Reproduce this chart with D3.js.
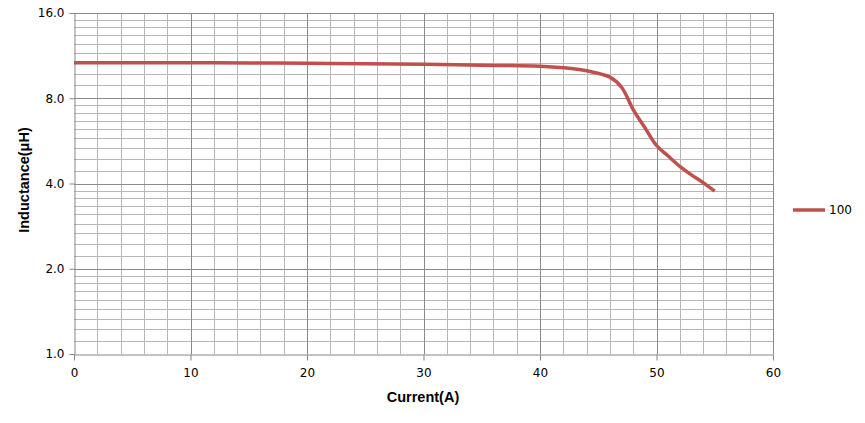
<!DOCTYPE html>
<html>
<head>
<meta charset="utf-8">
<script src="https://cdn.jsdelivr.net/npm/d3@7"></script>
<style>
  html, body { margin: 0; padding: 0; background: #fff; }
  svg { display: block; }
</style>
</head>
<body>
<svg id="chart" width="865" height="423"></svg>
<script>
// ---- data ----
const current = [0, 5, 10, 15, 20, 25, 30, 35, 40, 42, 44, 46, 47, 48, 49, 50, 51, 52, 53, 54, 55];
const inductance = [10.68, 10.68, 10.68, 10.66, 10.63, 10.59, 10.54, 10.47, 10.38, 10.25, 10.0, 9.5, 8.75, 7.3, 6.3, 5.45, 5.0, 4.6, 4.29, 4.03, 3.76];
const seriesName = "100";
const xTicks = [0, 10, 20, 30, 40, 50, 60];
const yTicks = [1, 2, 4, 8, 16];
const xTitle = "Current(A)";
const yTitle = "Inductance(\u03BCH)";

// ---- layout ----
const svg = d3.select("#chart");
const pL = 74, pR = 773, pT = 13, pB = 354;

const x = d3.scaleLinear().domain([0, 60]).range([pL, pR]);
const y = d3.scaleLog().base(2).domain([1, 16]).range([pB, pT]);

// minor grid values
const xMinor = d3.range(0, 61, 2).filter(v => v % 10 !== 0);
const yMinor = [];
yTicks.slice(0, -1).forEach(m => {
  for (let i = 1; i <= 8; i++) yMinor.push(m * (1 + i / 9));
});

const grid = svg.append("g");
grid.selectAll("line.xmin").data(xMinor).join("line")
  .attr("x1", d => Math.round(x(d)) + 0.5).attr("x2", d => Math.round(x(d)) + 0.5)
  .attr("y1", pT).attr("y2", pB)
  .attr("stroke", "#b8b8b8").attr("stroke-width", 1);
grid.selectAll("line.ymin").data(yMinor).join("line")
  .attr("y1", d => Math.round(y(d)) + 0.5).attr("y2", d => Math.round(y(d)) + 0.5)
  .attr("x1", pL).attr("x2", pR)
  .attr("stroke", "#b8b8b8").attr("stroke-width", 1);
grid.selectAll("line.xmaj").data(xTicks.slice(1)).join("line")
  .attr("x1", d => Math.round(x(d)) + 0.5).attr("x2", d => Math.round(x(d)) + 0.5)
  .attr("y1", pT).attr("y2", pB)
  .attr("stroke", "#8a8a8a").attr("stroke-width", 1);
grid.selectAll("line.ymaj").data(yTicks.slice(1)).join("line")
  .attr("y1", d => Math.round(y(d)) + 0.5).attr("y2", d => Math.round(y(d)) + 0.5)
  .attr("x1", pL).attr("x2", pR)
  .attr("stroke", "#8a8a8a").attr("stroke-width", 1);

// axes
const fmt = d3.format(".1f");
const yAxis = svg.append("g")
  .attr("transform", `translate(${pL + 0.5},0)`)
  .call(d3.axisLeft(y).tickValues(yTicks).tickFormat(fmt).tickSize(5).tickSizeOuter(0).tickPadding(5));
const xAxis = svg.append("g")
  .attr("transform", `translate(0,${pB + 0.5})`)
  .call(d3.axisBottom(x).tickValues(xTicks).tickSize(6).tickSizeOuter(0).tickPadding(8));

[yAxis, xAxis].forEach(a => {
  a.select(".domain").attr("stroke", "#868686");
  a.selectAll(".tick line").attr("stroke", "#868686");
  a.selectAll("text").attr("fill", "#000")
    .style("font-family", "'DejaVu Sans', Verdana, sans-serif").style("font-size", "12px");
});

// line
const line = d3.line()
  .x((d, i) => x(current[i]))
  .y((d, i) => y(inductance[i]))
  .curve(d3.curveCatmullRom.alpha(0.5));
svg.append("path")
  .datum(current)
  .attr("d", line)
  .attr("fill", "none")
  .attr("stroke", "#c0504d")
  .attr("stroke-width", 3.5)
  .attr("stroke-linejoin", "round");

// titles
svg.append("text")
  .attr("x", 423).attr("y", 402)
  .attr("text-anchor", "middle")
  .style("font-family", "'Liberation Sans', Arial, sans-serif")
  .style("font-weight", "bold").style("font-size", "14.5px")
  .text(xTitle);
svg.append("text")
  .attr("transform", "translate(29,180) rotate(-90)")
  .attr("text-anchor", "middle")
  .style("font-family", "'Liberation Sans', Arial, sans-serif")
  .style("font-weight", "bold").style("font-size", "14.5px")
  .text(yTitle);

// legend
svg.append("line")
  .attr("x1", 793).attr("x2", 825).attr("y1", 210).attr("y2", 210)
  .attr("stroke", "#c0504d").attr("stroke-width", 3.5);
svg.append("text")
  .attr("x", 829).attr("y", 214)
  .style("font-family", "'DejaVu Sans', Verdana, sans-serif").style("font-size", "12px")
  .attr("fill", "#000")
  .text(seriesName);
</script>
</body>
</html>
